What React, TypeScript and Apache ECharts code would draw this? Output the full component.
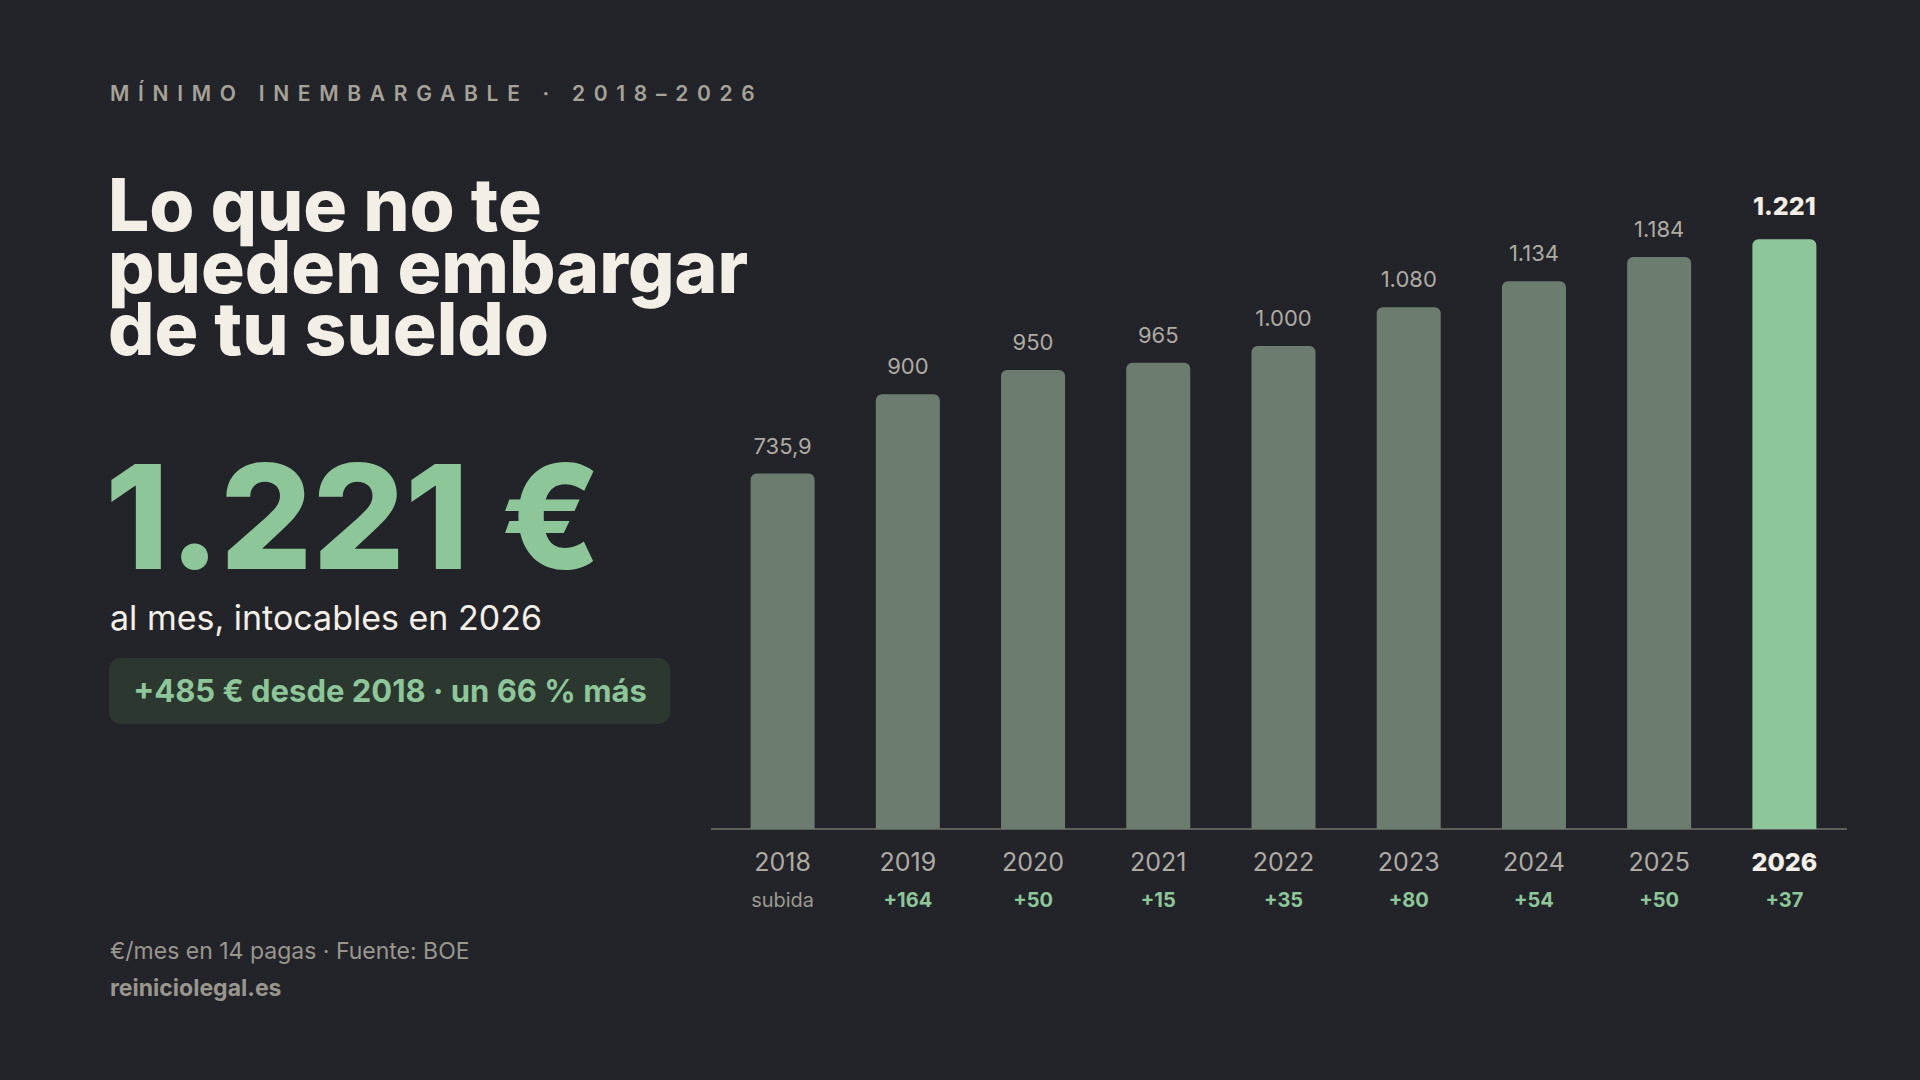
import React, { useEffect, useRef } from "react";
import * as echarts from "echarts";

// Mínimo inembargable (€/mes, 14 pagas)
const years = ["2018", "2019", "2020", "2021", "2022", "2023", "2024", "2025", "2026"];
const amounts = [735.9, 900, 950, 965, 1000, 1080, 1134, 1184, 1221];
const amountLabels = ["735,9", "900", "950", "965", "1.000", "1.080", "1.134", "1.184", "1.221"];
const increments = ["subida", "+164", "+50", "+15", "+35", "+80", "+54", "+50", "+37"];
const titleLines = ["Lo que no te", "pueden embargar", "de tu sueldo"];

const BG = "#232429";
const CREAM = "#f3efe6";
const GREEN = "#8cc699";
const BAR = "#6c7d6f";
const MUTED = "#aeaba2";
const FONT = "Inter, 'Noto Sans', sans-serif";

const App: React.FC = () => {
  const chartRef = useRef<HTMLDivElement>(null);

  useEffect(() => {
    document.body.style.margin = "0";
    if (!chartRef.current) return;
    const chart = echarts.init(chartRef.current, undefined, { renderer: "svg" });
    const last = amounts.length - 1;

    const option: echarts.EChartsOption = {
      animation: false,
      backgroundColor: BG,
      textStyle: { fontFamily: FONT },
      grid: { left: 720, right: 73, top: 201, bottom: 251 },
      xAxis: {
        type: "category",
        data: years,
        axisTick: { show: false },
        axisLine: { show: false },
        axisLabel: {
          margin: 14,
          formatter: (value: string, idx: number) =>
            idx === last
              ? `{yb|${value}}\n{g|${increments[idx]}}`
              : idx === 0
              ? `{y|${value}}\n{s|${increments[idx]}}`
              : `{y|${value}}\n{g|${increments[idx]}}`,
          rich: {
            y: { fontSize: 25, color: MUTED, lineHeight: 38, fontFamily: FONT },
            yb: { fontSize: 25, color: CREAM, fontWeight: 800, lineHeight: 38, fontFamily: FONT },
            s: { fontSize: 20, color: "#9c998f", lineHeight: 38, fontFamily: FONT },
            g: { fontSize: 20, color: GREEN, fontWeight: 700, lineHeight: 38, fontFamily: FONT },
          },
        },
      },
      yAxis: {
        type: "value",
        min: 0,
        max: 1300,
        show: false,
        splitLine: { show: false },
      },
      series: [
        {
          type: "bar",
          barWidth: 64,
          data: amounts.map((v, i) => ({
            value: v,
            itemStyle: { color: i === last ? GREEN : BAR },
            label: {
              show: true,
              position: "top",
              distance: i === last ? 21 : 17,
              formatter: amountLabels[i],
              fontSize: i === last ? 25 : 22,
              fontWeight: i === last ? 800 : 400,
              color: i === last ? CREAM : MUTED,
              fontFamily: FONT,
            },
          })),
          itemStyle: { borderRadius: [6, 6, 0, 0] },
        },
      ],
      graphic: [
        // baseline of the bars, a little wider than the plot area
        {
          type: "line",
          shape: { x1: 711, y1: 829, x2: 1847, y2: 829 },
          style: { stroke: "#5e5f5b", lineWidth: 2 },
        },
        {
          type: "text",
          x: 110,
          y: 93,
          style: {
            text: "MÍNIMO INEMBARGABLE · 2018–2026",
            fill: "#a5a297",
            font: `600 21px ${FONT}`,
            verticalAlign: "middle",
          },
        },
        ...titleLines.map((line, i) => ({
          type: "text" as const,
          x: 108,
          y: 204 + i * 62,
          style: {
            text: line,
            fill: CREAM,
            font: `800 73px ${FONT}`,
            lineHeight: 62,
            verticalAlign: "middle" as const,
          },
        })),
        {
          type: "text",
          x: 105,
          y: 516,
          style: {
            text: "1.221 €",
            fill: GREEN,
            font: `800 145px ${FONT}`,
            lineHeight: 140,
            verticalAlign: "middle",
          },
        },
        {
          type: "text",
          x: 110,
          y: 617,
          style: {
            text: "al mes, intocables en 2026",
            fill: CREAM,
            font: `400 34px ${FONT}`,
            verticalAlign: "middle",
          },
        },
        {
          type: "rect",
          shape: { x: 109, y: 658, width: 561, height: 66, r: 12 },
          style: { fill: "#2c3730" },
        },
        {
          type: "text",
          x: 390,
          y: 690,
          style: {
            text: "+485 € desde 2018 · un 66 % más",
            fill: GREEN,
            font: `700 31px ${FONT}`,
            align: "center",
            verticalAlign: "middle",
          },
        },
        {
          type: "text",
          x: 110,
          y: 951,
          style: {
            text: "€/mes en 14 pagas · Fuente: BOE",
            fill: "#99968e",
            font: `400 23px ${FONT}`,
            verticalAlign: "middle",
          },
        },
        {
          type: "text",
          x: 110,
          y: 988,
          style: {
            text: "reiniciolegal.es",
            fill: "#99968e",
            font: `700 23px ${FONT}`,
            verticalAlign: "middle",
          },
        },
      ],
    };

    chart.setOption(option);

    // wide tracking on the eyebrow line (zrender text has no letter-spacing)
    const spaceEyebrow = () => {
      chartRef.current?.querySelectorAll("text").forEach((t) => {
        if (t.textContent?.startsWith("MÍNIMO")) t.style.letterSpacing = "8.7px";
      });
    };
    spaceEyebrow();
    chart.on("finished", spaceEyebrow);

    return () => {
      chart.dispose();
    };
  }, []);

  return (
    <div
      ref={chartRef}
      style={{ position: "absolute", left: 0, top: 0, width: "1920px", height: "1080px", background: BG }}
    />
  );
};

export default App;
